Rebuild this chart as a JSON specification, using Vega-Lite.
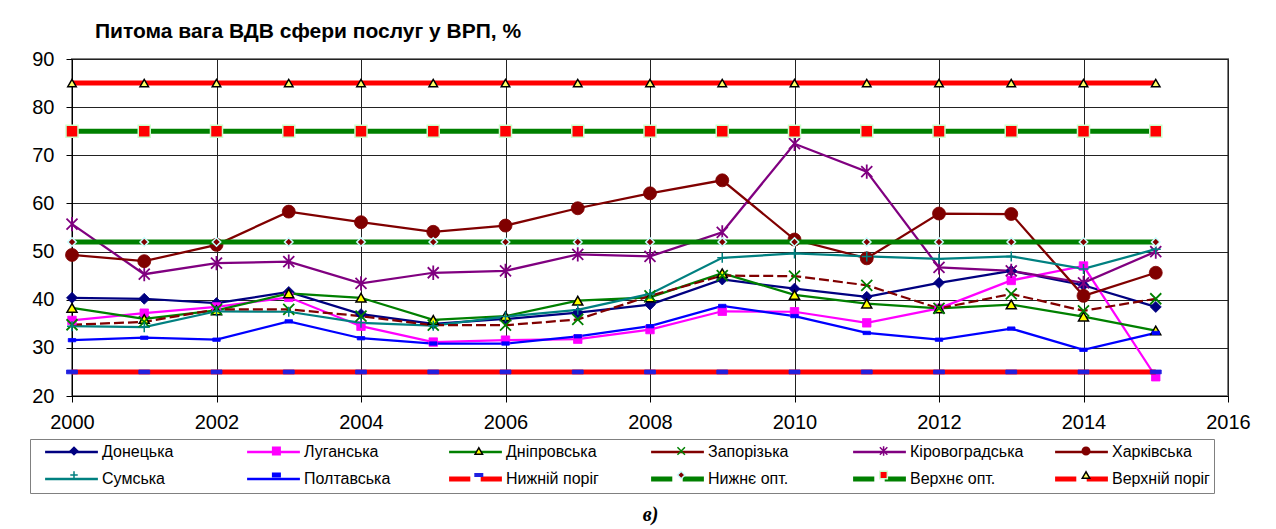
{
"$schema": "https://vega.github.io/schema/vega-lite/v6.json",
"width": 1156,
"height": 337,
"autosize": {"type": "none"},
"padding": {"left": 72, "top": 59, "right": 48, "bottom": 133},
"background": "white",
"title": {"text": "Питома вага ВДВ сфери послуг у ВРП, %", "anchor": "start", "frame": "group", "dx": 23, "offset": -10, "baseline": "alphabetic", "font": "Liberation Sans", "fontSize": 21, "fontWeight": "bold", "color": "#000000"},
"data": {"values": [
{"series":"Донецька","year":2000,"value":40.4},{"series":"Донецька","year":2001,"value":40.2},{"series":"Донецька","year":2002,"value":39.3},{"series":"Донецька","year":2003,"value":41.6},{"series":"Донецька","year":2004,"value":37.0},{"series":"Донецька","year":2005,"value":35.0},{"series":"Донецька","year":2006,"value":36.0},{"series":"Донецька","year":2007,"value":37.3},{"series":"Донецька","year":2008,"value":39.0},{"series":"Донецька","year":2009,"value":44.2},{"series":"Донецька","year":2010,"value":42.3},{"series":"Донецька","year":2011,"value":40.6},{"series":"Донецька","year":2012,"value":43.5},{"series":"Донецька","year":2013,"value":46.0},{"series":"Донецька","year":2014,"value":43.0},{"series":"Донецька","year":2015,"value":38.5},
{"series":"Луганська","year":2000,"value":35.7},{"series":"Луганська","year":2001,"value":37.2},{"series":"Луганська","year":2002,"value":38.5},{"series":"Луганська","year":2003,"value":40.5},{"series":"Луганська","year":2004,"value":34.5},{"series":"Луганська","year":2005,"value":31.2},{"series":"Луганська","year":2006,"value":31.6},{"series":"Луганська","year":2007,"value":31.8},{"series":"Луганська","year":2008,"value":33.8},{"series":"Луганська","year":2009,"value":37.6},{"series":"Луганська","year":2010,"value":37.5},{"series":"Луганська","year":2011,"value":35.2},{"series":"Луганська","year":2012,"value":38.2},{"series":"Луганська","year":2013,"value":44.0},{"series":"Луганська","year":2014,"value":47.0},{"series":"Луганська","year":2015,"value":24.0},
{"series":"Дніпровська","year":2000,"value":38.3},{"series":"Дніпровська","year":2001,"value":36.0},{"series":"Дніпровська","year":2002,"value":37.8},{"series":"Дніпровська","year":2003,"value":41.3},{"series":"Дніпровська","year":2004,"value":40.4},{"series":"Дніпровська","year":2005,"value":35.8},{"series":"Дніпровська","year":2006,"value":36.6},{"series":"Дніпровська","year":2007,"value":39.8},{"series":"Дніпровська","year":2008,"value":40.5},{"series":"Дніпровська","year":2009,"value":45.5},{"series":"Дніпровська","year":2010,"value":41.0},{"series":"Дніпровська","year":2011,"value":39.2},{"series":"Дніпровська","year":2012,"value":38.2},{"series":"Дніпровська","year":2013,"value":39.0},{"series":"Дніпровська","year":2014,"value":36.5},{"series":"Дніпровська","year":2015,"value":33.6},
{"series":"Запорізька","year":2000,"value":34.8},{"series":"Запорізька","year":2001,"value":35.4},{"series":"Запорізька","year":2002,"value":38.0},{"series":"Запорізька","year":2003,"value":38.0},{"series":"Запорізька","year":2004,"value":36.6},{"series":"Запорізька","year":2005,"value":34.7},{"series":"Запорізька","year":2006,"value":34.7},{"series":"Запорізька","year":2007,"value":35.9},{"series":"Запорізька","year":2008,"value":40.8},{"series":"Запорізька","year":2009,"value":45.0},{"series":"Запорізька","year":2010,"value":44.9},{"series":"Запорізька","year":2011,"value":43.0},{"series":"Запорізька","year":2012,"value":38.2},{"series":"Запорізька","year":2013,"value":41.2},{"series":"Запорізька","year":2014,"value":37.7},{"series":"Запорізька","year":2015,"value":40.2},
{"series":"Кіровоградська","year":2000,"value":55.7},{"series":"Кіровоградська","year":2001,"value":45.3},{"series":"Кіровоградська","year":2002,"value":47.6},{"series":"Кіровоградська","year":2003,"value":47.9},{"series":"Кіровоградська","year":2004,"value":43.4},{"series":"Кіровоградська","year":2005,"value":45.6},{"series":"Кіровоградська","year":2006,"value":46.0},{"series":"Кіровоградська","year":2007,"value":49.4},{"series":"Кіровоградська","year":2008,"value":49.0},{"series":"Кіровоградська","year":2009,"value":54.0},{"series":"Кіровоградська","year":2010,"value":72.4},{"series":"Кіровоградська","year":2011,"value":66.6},{"series":"Кіровоградська","year":2012,"value":46.7},{"series":"Кіровоградська","year":2013,"value":46.0},{"series":"Кіровоградська","year":2014,"value":43.5},{"series":"Кіровоградська","year":2015,"value":50.0},
{"series":"Харківська","year":2000,"value":49.3},{"series":"Харківська","year":2001,"value":48.0},{"series":"Харківська","year":2002,"value":51.4},{"series":"Харківська","year":2003,"value":58.3},{"series":"Харківська","year":2004,"value":56.1},{"series":"Харківська","year":2005,"value":54.1},{"series":"Харківська","year":2006,"value":55.4},{"series":"Харківська","year":2007,"value":59.0},{"series":"Харківська","year":2008,"value":62.1},{"series":"Харківська","year":2009,"value":64.8},{"series":"Харківська","year":2010,"value":52.5},{"series":"Харківська","year":2011,"value":48.6},{"series":"Харківська","year":2012,"value":57.9},{"series":"Харківська","year":2013,"value":57.8},{"series":"Харківська","year":2014,"value":40.8},{"series":"Харківська","year":2015,"value":45.6},
{"series":"Сумська","year":2000,"value":34.5},{"series":"Сумська","year":2001,"value":34.3},{"series":"Сумська","year":2002,"value":37.6},{"series":"Сумська","year":2003,"value":37.5},{"series":"Сумська","year":2004,"value":35.2},{"series":"Сумська","year":2005,"value":34.6},{"series":"Сумська","year":2006,"value":36.5},{"series":"Сумська","year":2007,"value":37.9},{"series":"Сумська","year":2008,"value":41.2},{"series":"Сумська","year":2009,"value":48.7},{"series":"Сумська","year":2010,"value":49.6},{"series":"Сумська","year":2011,"value":49.0},{"series":"Сумська","year":2012,"value":48.5},{"series":"Сумська","year":2013,"value":49.0},{"series":"Сумська","year":2014,"value":46.4},{"series":"Сумська","year":2015,"value":50.5},
{"series":"Полтавська","year":2000,"value":31.6},{"series":"Полтавська","year":2001,"value":32.1},{"series":"Полтавська","year":2002,"value":31.7},{"series":"Полтавська","year":2003,"value":35.5},{"series":"Полтавська","year":2004,"value":32.0},{"series":"Полтавська","year":2005,"value":30.9},{"series":"Полтавська","year":2006,"value":30.9},{"series":"Полтавська","year":2007,"value":32.4},{"series":"Полтавська","year":2008,"value":34.5},{"series":"Полтавська","year":2009,"value":38.7},{"series":"Полтавська","year":2010,"value":36.6},{"series":"Полтавська","year":2011,"value":33.1},{"series":"Полтавська","year":2012,"value":31.7},{"series":"Полтавська","year":2013,"value":34.0},{"series":"Полтавська","year":2014,"value":29.6},{"series":"Полтавська","year":2015,"value":33.1},
{"series":"Нижній поріг","year":2000,"value":25},{"series":"Нижній поріг","year":2001,"value":25},{"series":"Нижній поріг","year":2002,"value":25},{"series":"Нижній поріг","year":2003,"value":25},{"series":"Нижній поріг","year":2004,"value":25},{"series":"Нижній поріг","year":2005,"value":25},{"series":"Нижній поріг","year":2006,"value":25},{"series":"Нижній поріг","year":2007,"value":25},{"series":"Нижній поріг","year":2008,"value":25},{"series":"Нижній поріг","year":2009,"value":25},{"series":"Нижній поріг","year":2010,"value":25},{"series":"Нижній поріг","year":2011,"value":25},{"series":"Нижній поріг","year":2012,"value":25},{"series":"Нижній поріг","year":2013,"value":25},{"series":"Нижній поріг","year":2014,"value":25},{"series":"Нижній поріг","year":2015,"value":25},
{"series":"Нижнє опт.","year":2000,"value":52},{"series":"Нижнє опт.","year":2001,"value":52},{"series":"Нижнє опт.","year":2002,"value":52},{"series":"Нижнє опт.","year":2003,"value":52},{"series":"Нижнє опт.","year":2004,"value":52},{"series":"Нижнє опт.","year":2005,"value":52},{"series":"Нижнє опт.","year":2006,"value":52},{"series":"Нижнє опт.","year":2007,"value":52},{"series":"Нижнє опт.","year":2008,"value":52},{"series":"Нижнє опт.","year":2009,"value":52},{"series":"Нижнє опт.","year":2010,"value":52},{"series":"Нижнє опт.","year":2011,"value":52},{"series":"Нижнє опт.","year":2012,"value":52},{"series":"Нижнє опт.","year":2013,"value":52},{"series":"Нижнє опт.","year":2014,"value":52},{"series":"Нижнє опт.","year":2015,"value":52},
{"series":"Верхнє опт.","year":2000,"value":75},{"series":"Верхнє опт.","year":2001,"value":75},{"series":"Верхнє опт.","year":2002,"value":75},{"series":"Верхнє опт.","year":2003,"value":75},{"series":"Верхнє опт.","year":2004,"value":75},{"series":"Верхнє опт.","year":2005,"value":75},{"series":"Верхнє опт.","year":2006,"value":75},{"series":"Верхнє опт.","year":2007,"value":75},{"series":"Верхнє опт.","year":2008,"value":75},{"series":"Верхнє опт.","year":2009,"value":75},{"series":"Верхнє опт.","year":2010,"value":75},{"series":"Верхнє опт.","year":2011,"value":75},{"series":"Верхнє опт.","year":2012,"value":75},{"series":"Верхнє опт.","year":2013,"value":75},{"series":"Верхнє опт.","year":2014,"value":75},{"series":"Верхнє опт.","year":2015,"value":75},
{"series":"Верхній поріг","year":2000,"value":85},{"series":"Верхній поріг","year":2001,"value":85},{"series":"Верхній поріг","year":2002,"value":85},{"series":"Верхній поріг","year":2003,"value":85},{"series":"Верхній поріг","year":2004,"value":85},{"series":"Верхній поріг","year":2005,"value":85},{"series":"Верхній поріг","year":2006,"value":85},{"series":"Верхній поріг","year":2007,"value":85},{"series":"Верхній поріг","year":2008,"value":85},{"series":"Верхній поріг","year":2009,"value":85},{"series":"Верхній поріг","year":2010,"value":85},{"series":"Верхній поріг","year":2011,"value":85},{"series":"Верхній поріг","year":2012,"value":85},{"series":"Верхній поріг","year":2013,"value":85},{"series":"Верхній поріг","year":2014,"value":85},{"series":"Верхній поріг","year":2015,"value":85}
]},
"encoding": {
  "x": {"field": "year", "type": "quantitative", "scale": {"domain": [2000, 2016], "nice": false, "zero": false},
        "axis": {"values": [2000, 2002, 2004, 2006, 2008, 2010, 2012, 2014, 2016], "format": "d", "labelFlush": false, "labelPadding": 10, "title": "в)", "titleFont": "Liberation Serif", "titleFontStyle": "italic", "titleFontWeight": "bold", "titleFontSize": 20, "titlePadding": 72, "titleColor": "#000000"}},
  "y": {"field": "value", "type": "quantitative", "scale": {"domain": [20, 90], "nice": false, "zero": false},
        "axis": {"values": [20, 30, 40, 50, 60, 70, 80, 90], "title": null, "labelPadding": 12}}
},
"layer": [
  {"transform": [{"filter": {"field": "series", "oneOf": ["Донецька","Луганська","Дніпровська","Кіровоградська","Харківська","Сумська","Полтавська"]}}],
   "mark": {"type": "line", "strokeWidth": 2.25},
   "encoding": {"color": {"field": "series", "type": "nominal",
      "scale": {"domain": ["Донецька","Луганська","Дніпровська","Запорізька","Кіровоградська","Харківська","Сумська","Полтавська","Нижній поріг","Нижнє опт.","Верхнє опт.","Верхній поріг"],
                "range": ["#000080","#FF00FF","#008000","#800000","#800080","#800000","#008080","#0000FF","#FF0000","#008000","#008000","#FF0000"]},
      "legend": {"title": null, "orient": "none", "legendX": -42, "legendY": 380, "direction": "horizontal", "columns": 6, "gridAlign": "all", "columnPadding": 20, "rowPadding": 8, "symbolType": "M-6.6,0H6.6", "symbolSize": 64, "symbolStrokeWidth": 2.5, "labelFont": "Liberation Sans", "labelFontSize": 16, "labelColor": "#000000", "labelLimit": 0, "padding": 4, "strokeColor": "#808080",
        "encode": {
          "symbols": {"update": {
            "x": {"value": 37.5},
            "strokeWidth": {"signal": "indexof(['Нижній поріг','Нижнє опт.','Верхнє опт.','Верхній поріг'], datum.value) >= 0 ? 5 : 2.5"},
            "shape": {"signal": "indexof(['Нижній поріг','Нижнє опт.','Верхнє опт.','Верхній поріг'], datum.value) >= 0 ? 'M-6.6,0H-1.3M1.3,0H6.6' : 'M-6.6,0H6.6'"}}},
          "labels": {"update": {"x": {"value": 68}}}}}}}},
  {"transform": [{"filter": {"field": "series", "equal": "Запорізька"}}],
   "mark": {"type": "line", "strokeWidth": 2.25, "strokeDash": [10, 4]},
   "encoding": {"color": {"field": "series", "type": "nominal",
      "scale": {"domain": ["Донецька","Луганська","Дніпровська","Запорізька","Кіровоградська","Харківська","Сумська","Полтавська","Нижній поріг","Нижнє опт.","Верхнє опт.","Верхній поріг"],
                "range": ["#000080","#FF00FF","#008000","#800000","#800080","#800000","#008080","#0000FF","#FF0000","#008000","#008000","#FF0000"]}}}},
  {"transform": [{"filter": {"field": "series", "oneOf": ["Донецька","Луганська","Дніпровська","Запорізька","Кіровоградська","Харківська","Сумська","Полтавська"]}}],
   "mark": {"type": "point", "opacity": 1},
   "encoding": {
     "fill": {"field": "series", "type": "nominal",
       "scale": {"domain": ["Донецька","Луганська","Дніпровська","Запорізька","Кіровоградська","Харківська","Сумська","Полтавська","Нижній поріг","Нижнє опт.","Верхнє опт.","Верхній поріг","_"],
                 "range": ["#000080","#FF00FF","#FFFF00","transparent","transparent","#800000","transparent","#0000FF","#2020E0","#800000","#FF0000","#FFFF66","transparent"]},
       "legend": {"title": null, "orient": "none", "legendX": -42, "legendY": 380, "direction": "horizontal", "columns": 6, "gridAlign": "all", "columnPadding": 134.4, "rowPadding": 8, "symbolSize": 56, "symbolStrokeWidth": 1.5, "symbolOffset": 32, "labelOffset": 20, "labelExpr": "''", "labelFont": "Liberation Sans", "labelFontSize": 16, "labelColor": "transparent", "labelLimit": 0, "padding": 4,
         "values": ["Донецька","Луганська","Дніпровська","Запорізька","Кіровоградська","Харківська","Сумська","Полтавська","Нижній поріг","Нижнє опт.","Верхнє опт.","Верхній поріг"]}},
     "stroke": {"field": "series", "type": "nominal",
       "scale": {"domain": ["Донецька","Луганська","Дніпровська","Запорізька","Кіровоградська","Харківська","Сумська","Полтавська","Нижній поріг","Нижнє опт.","Верхнє опт.","Верхній поріг","_"],
                 "range": ["#000080","#FF00FF","#000000","#008000","#800080","#800000","#008080","#0000FF","#2020E0","#CCFFFF","#CCFFCC","#000000","transparent"]},
       "legend": {"title": null, "orient": "none", "legendX": -42, "legendY": 380, "direction": "horizontal", "columns": 6, "gridAlign": "all", "columnPadding": 134.4, "rowPadding": 8, "symbolSize": 56, "symbolStrokeWidth": 1.5, "symbolOffset": 32, "labelOffset": 20, "labelExpr": "''", "labelFont": "Liberation Sans", "labelFontSize": 16, "labelColor": "transparent", "labelLimit": 0, "padding": 4,
         "values": ["Донецька","Луганська","Дніпровська","Запорізька","Кіровоградська","Харківська","Сумська","Полтавська","Нижній поріг","Нижнє опт.","Верхнє опт.","Верхній поріг"]}},
     "shape": {"field": "series", "type": "nominal",
       "scale": {"domain": ["Донецька","Луганська","Дніпровська","Запорізька","Кіровоградська","Харківська","Сумська","Полтавська","Нижній поріг","Нижнє опт.","Верхнє опт.","Верхній поріг","_"],
                 "range": ["diamond","square","triangle-up","M-1,-1L1,1M-1,1L1,-1","M-1,-1L1,1M-1,1L1,-1M0,-1.3L0,1.3","circle","M-1,0L1,0M0,-1L0,1","M-1,-0.45H1V0.45H-1Z","M-1,-0.35H1V0.35H-1Z","diamond","square","triangle-up","circle"]},
       "legend": {"title": null, "orient": "none", "legendX": -42, "legendY": 380, "direction": "horizontal", "columns": 6, "gridAlign": "all", "columnPadding": 134.4, "rowPadding": 8, "symbolSize": 56, "symbolStrokeWidth": 1.5, "symbolOffset": 32, "labelOffset": 20, "labelExpr": "''", "labelFont": "Liberation Sans", "labelFontSize": 16, "labelColor": "transparent", "labelLimit": 0, "padding": 4,
         "values": ["Донецька","Луганська","Дніпровська","Запорізька","Кіровоградська","Харківська","Сумська","Полтавська","Нижній поріг","Нижнє опт.","Верхнє опт.","Верхній поріг"]}},
     "size": {"condition": [
        {"test": "datum.series === 'Харківська'", "value": 169},
        {"test": "indexof(['Верхнє опт.'], datum.series) >= 0", "value": 144},
        {"test": "indexof(['Донецька','Запорізька','Кіровоградська','Нижній поріг'], datum.series) >= 0", "value": 121},
        {"test": "indexof(['Луганська','Нижнє опт.','Верхній поріг'], datum.series) >= 0", "value": 72},
        {"test": "datum.series === 'Полтавська'", "value": 56}], "value": 100},
     "strokeWidth": {"condition": [
        {"test": "indexof(['Запорізька','Кіровоградська'], datum.series) >= 0", "value": 1.8},
        {"test": "indexof(['Дніпровська','Сумська','Нижнє опт.','Верхнє опт.','Верхній поріг'], datum.series) >= 0", "value": 1.5}], "value": 0.8}
   }},
  {"transform": [{"filter": {"field": "series", "oneOf": ["Нижній поріг","Нижнє опт.","Верхнє опт.","Верхній поріг"]}}],
   "mark": {"type": "line", "strokeWidth": 5},
   "encoding": {"color": {"field": "series", "type": "nominal",
      "scale": {"domain": ["Донецька","Луганська","Дніпровська","Запорізька","Кіровоградська","Харківська","Сумська","Полтавська","Нижній поріг","Нижнє опт.","Верхнє опт.","Верхній поріг"],
                "range": ["#000080","#FF00FF","#008000","#800000","#800080","#800000","#008080","#0000FF","#FF0000","#008000","#008000","#FF0000"]}}}},
  {"transform": [{"filter": {"field": "series", "oneOf": ["Нижній поріг","Нижнє опт.","Верхнє опт.","Верхній поріг"]}}],
   "mark": {"type": "point", "opacity": 1},
   "encoding": {
     "shape": {"field": "series", "type": "nominal",
       "scale": {"domain": ["Донецька","Луганська","Дніпровська","Запорізька","Кіровоградська","Харківська","Сумська","Полтавська","Нижній поріг","Нижнє опт.","Верхнє опт.","Верхній поріг","_"],
                 "range": ["diamond","square","triangle-up","M-1,-1L1,1M-1,1L1,-1","M-1,-1L1,1M-1,1L1,-1M0,-1.3L0,1.3","circle","M-1,0L1,0M0,-1L0,1","M-1,-0.45H1V0.45H-1Z","M-1,-0.35H1V0.35H-1Z","diamond","square","triangle-up","circle"]}},
     "fill": {"field": "series", "type": "nominal",
       "scale": {"domain": ["Донецька","Луганська","Дніпровська","Запорізька","Кіровоградська","Харківська","Сумська","Полтавська","Нижній поріг","Нижнє опт.","Верхнє опт.","Верхній поріг","_"],
                 "range": ["#000080","#FF00FF","#FFFF00","transparent","transparent","#800000","transparent","#0000FF","#2020E0","#800000","#FF0000","#FFFF66","transparent"]}},
     "stroke": {"field": "series", "type": "nominal",
       "scale": {"domain": ["Донецька","Луганська","Дніпровська","Запорізька","Кіровоградська","Харківська","Сумська","Полтавська","Нижній поріг","Нижнє опт.","Верхнє опт.","Верхній поріг","_"],
                 "range": ["#000080","#FF00FF","#000000","#008000","#800080","#800000","#008080","#0000FF","#2020E0","#CCFFFF","#CCFFCC","#000000","transparent"]}},
     "size": {"condition": [
        {"test": "datum.series === 'Харківська'", "value": 169},
        {"test": "indexof(['Верхнє опт.'], datum.series) >= 0", "value": 144},
        {"test": "indexof(['Донецька','Запорізька','Кіровоградська','Нижній поріг'], datum.series) >= 0", "value": 121},
        {"test": "indexof(['Луганська','Нижнє опт.','Верхній поріг'], datum.series) >= 0", "value": 72},
        {"test": "datum.series === 'Полтавська'", "value": 56}], "value": 100},
     "strokeWidth": {"condition": [
        {"test": "indexof(['Запорізька','Кіровоградська'], datum.series) >= 0", "value": 1.8},
        {"test": "indexof(['Дніпровська','Сумська','Нижнє опт.','Верхнє опт.','Верхній поріг'], datum.series) >= 0", "value": 1.5}], "value": 0.8}
   }}
],
"config": {
  "font": "Liberation Sans",
  "view": {"stroke": "#808080", "strokeWidth": 2},
  "axis": {"domainColor": "#000000", "domainWidth": 1, "tickColor": "#000000", "tickSize": 6, "tickWidth": 1, "gridColor": "#222222", "gridWidth": 1, "labelColor": "#000000", "labelFont": "Liberation Sans", "labelFontSize": 20}
}
}
